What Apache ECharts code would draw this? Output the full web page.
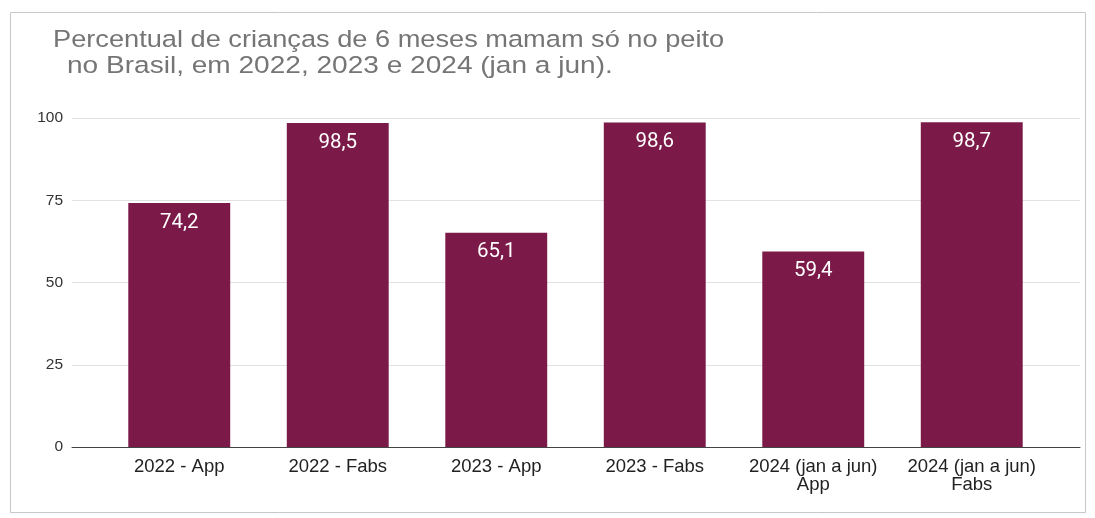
<!DOCTYPE html>
<html><head><meta charset="utf-8">
<script src="https://cdn.jsdelivr.net/npm/echarts@6/dist/echarts.min.js"></script>
<style>html,body{margin:0;padding:0;background:#fff}#c{width:1095px;height:518px}</style>
</head><body><div id="c"></div>
<script>
const categories = ['2022 - App', '2022 - Fabs', '2023 - App', '2023 - Fabs', '2024 (jan a jun)\nApp', '2024 (jan a jun)\nFabs'];
const values = [74.2, 98.5, 65.1, 98.6, 59.4, 98.7];
const yTicks = [0, 25, 50, 75, 100];
const titleLines = ['Percentual de crianças de 6 meses mamam só no peito', 'no Brasil, em 2022, 2023 e 2024 (jan a jun).'];

const chart = echarts.init(document.getElementById('c'));
const gridTop = 118, gridBottom = 518 - 447;
const titleFont = 'normal 24.5px "Liberation Sans", Arial, sans-serif';
chart.setOption({
  animation: false,
  graphic: [
    { type: 'rect', shape: { x: 10.5, y: 12.5, width: 1075, height: 500 },
      style: { fill: 'none', stroke: '#c8c8c8', lineWidth: 1 }, silent: true },
    { type: 'text', x: 53, y: 28, scaleX: 1.11, silent: true,
      style: { text: titleLines[0], font: titleFont, fill: '#757575', verticalAlign: 'top' } },
    { type: 'text', x: 67, y: 54, scaleX: 1.145, silent: true,
      style: { text: titleLines[1], font: titleFont, fill: '#757575', verticalAlign: 'top' } }
  ],
  grid: [
    { left: 72, right: 15, top: gridTop, bottom: gridBottom },
    { left: 100, right: 44, top: gridTop, bottom: gridBottom }
  ],
  xAxis: [
    { type: 'value', gridIndex: 0, min: 0, max: 1, show: true, axisLabel: { show: false }, axisTick: { show: false }, splitLine: { show: false }, axisLine: { show: true, onZero: false, lineStyle: { color: '#444', width: 1 } } },
    { type: 'category', gridIndex: 1, data: categories, axisLine: { show: false }, axisTick: { show: false },
      axisLabel: { margin: 11, fontFamily: 'Liberation Sans, Arial', fontSize: 18.5, color: '#222', lineHeight: 18, interval: 0 } }
  ],
  yAxis: [
    { type: 'value', gridIndex: 0, min: 0, max: 100, interval: 25, axisLine: { show: false }, axisTick: { show: false },
      axisLabel: { margin: 9, fontFamily: 'Liberation Sans, Arial', fontSize: 15.5, color: '#333', formatter: v => yTicks.includes(v) ? String(v) : '' },
      splitLine: { lineStyle: { color: '#e2e2e2', width: 1 } } },
    { type: 'value', gridIndex: 1, min: 0, max: 100, interval: 25, show: false, splitLine: { show: false } }
  ],
  series: [{
    type: 'bar', xAxisIndex: 1, yAxisIndex: 1, data: values, barCategoryGap: '35.7%',
    itemStyle: { color: '#7b1a48' },
    label: { show: true, position: 'insideTop', distance: 9, color: '#fff', fontFamily: 'Roboto, Open Sans', fontSize: 20.5,
      formatter: p => String(p.value).replace('.', ',') }
  }]
});
</script></body></html>
